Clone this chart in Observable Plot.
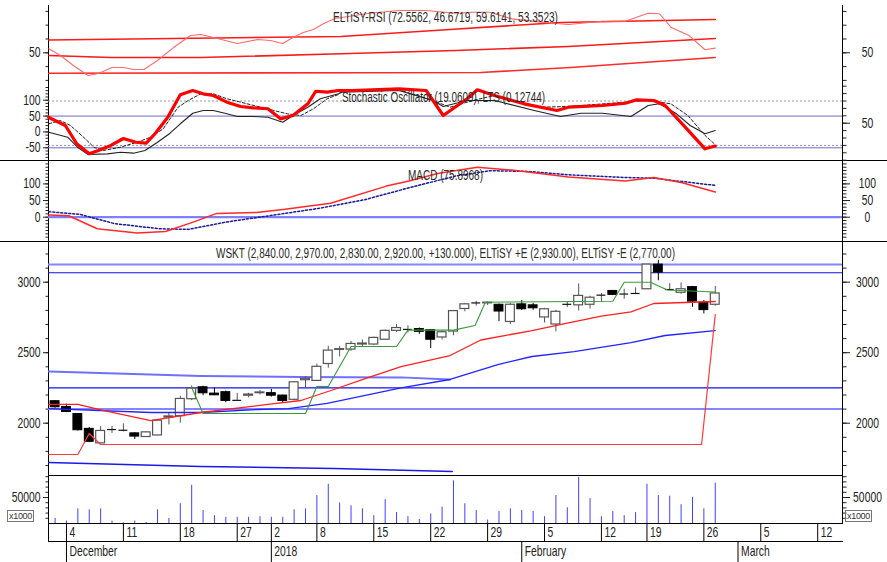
<!DOCTYPE html>
<html><head><meta charset="utf-8">
<script src="https://cdn.jsdelivr.net/npm/d3@7"></script>
<script src="https://cdn.jsdelivr.net/npm/@observablehq/plot@0.6"></script>
<style>
body{margin:0;background:#fff;}
#chart{position:relative;width:887px;height:562px;background:#fff;overflow:hidden;}
#chart svg{position:absolute;left:0;top:0;}
.ln{position:absolute;background:#000;}
.box{position:absolute;border:1px solid #777;font:9px 'Liberation Sans',sans-serif;color:#333;line-height:10px;padding:0 1px;letter-spacing:-0.3px;}
</style></head><body><div id="chart"></div>
<script>
// ---------- DATA ----------
const tradingDays = ["2017-12-01","2017-12-04","2017-12-05","2017-12-06","2017-12-07","2017-12-08","2017-12-11","2017-12-12","2017-12-13","2017-12-14","2017-12-15","2017-12-18","2017-12-19","2017-12-20","2017-12-21","2017-12-22","2017-12-27","2017-12-28","2017-12-29","2018-01-02","2018-01-03","2018-01-04","2018-01-05","2018-01-08","2018-01-09","2018-01-10","2018-01-11","2018-01-12","2018-01-15","2018-01-16","2018-01-17","2018-01-18","2018-01-19","2018-01-22","2018-01-23","2018-01-24","2018-01-25","2018-01-26","2018-01-29","2018-01-30","2018-01-31","2018-02-01","2018-02-02","2018-02-05","2018-02-06","2018-02-07","2018-02-08","2018-02-09","2018-02-12","2018-02-13","2018-02-14","2018-02-15","2018-02-19","2018-02-20","2018-02-21","2018-02-22","2018-02-23","2018-02-26","2018-02-27"];
const futureDays = ["2018-02-28","2018-03-01","2018-03-02","2018-03-05","2018-03-06","2018-03-07","2018-03-08","2018-03-09","2018-03-12","2018-03-13","2018-03-14"];
const opens  = [2156,2115,2065,1960,1857,1953,1948,1928,1902,1913,2040,2050,2170,2255,2210,2220,2160,2195,2213,2213,2196,2166,2305,2300,2420,2520,2522,2558,2558,2592,2655,2662,2668,2660,2608,2650,2810,2850,2850,2840,2718,2843,2836,2750,2700,2840,2836,2840,2905,2938,2915,2918,2950,3125,2950,2925,2965,2856,2840];
const highs  = [2160,2135,2068,1970,1975,1977,1995,1932,1938,2020,2075,2190,2265,2262,2250,2228,2212,2212,2232,2240,2200,2292,2330,2420,2545,2545,2580,2590,2610,2660,2700,2690,2675,2665,2655,2800,2850,2865,2860,2845,2850,2870,2850,2815,2800,2860,2987,2900,2920,2940,2950,2960,3125,3155,2990,2995,2970,2870,2970];
const lows   = [2106,2075,1945,1862,1855,1928,1938,1885,1900,1912,1988,2000,2160,2195,2195,2145,2155,2180,2200,2185,2140,2160,2245,2295,2390,2470,2510,2545,2550,2590,2645,2640,2630,2530,2590,2620,2790,2830,2835,2720,2700,2800,2800,2710,2648,2820,2796,2810,2860,2905,2880,2915,2950,3010,2940,2915,2822,2775,2830];
const closes = [2113,2080,1950,1868,1945,1955,1950,1905,1935,2018,2048,2172,2245,2212,2198,2158,2162,2203,2218,2195,2158,2290,2315,2400,2515,2525,2562,2565,2605,2655,2675,2665,2648,2592,2645,2795,2843,2853,2855,2792,2840,2808,2815,2808,2790,2843,2903,2890,2908,2910,2916,2920,3125,3068,2948,2950,2862,2802,2920];
const volumes = [9800,4600,28200,26200,28200,4600,1300,4600,2000,26200,9800,38000,73500,24900,15100,11800,11800,11800,13100,11800,11800,26200,28200,53800,75400,39400,34100,28200,15100,45900,21000,13100,7900,18400,31500,82000,38000,24900,6600,23000,28200,24900,23000,13100,53800,30200,88600,47900,13100,23000,15100,21000,75400,53800,52500,36100,50500,28200,77400];

// price-panel overlays: [trading-day index, value]
const maShort = [[-0.55,2133],[2,2133],[4,2095],[8.4,2019],[12.8,2076],[18.7,2133],[21.6,2161],[24.5,2239],[27.5,2324],[30.4,2402],[34.7,2480],[37.4,2590],[41.9,2657],[45,2710],[48,2760],[50.6,2790],[52.6,2849],[58,2863]];
const maLong = [[-0.55,2104],[8.4,2076],[12.8,2076],[17.8,2097],[20.5,2104],[23.9,2140],[30.4,2250],[34.7,2310],[38.9,2416],[41.9,2473],[45.6,2508],[50.6,2572],[53.6,2622],[58,2657]];
const upperTrend = [[-0.55,2367],[12.8,2335],[21.6,2327],[30.4,2325],[34.7,2310]];
const lowerTrend = [[-0.55,1721],[12.8,1693],[24.5,1679],[34.9,1657]];
const plusE = [[12,2253],[13,2069],[22,2069],[23,2260],[24,2260],[26,2544],[30,2544],[31,2660],[35,2660],[36.9,2693],[37.8,2858],[49,2865],[50,3000],[52.3,3000],[53.8,2945],[58,2930]];
const minusE = [[-0.55,1778],[2,1778],[3,1927],[4,1849],[56.8,1849],[58,2770]];
const priceLevelsLight = [3125,2100];
const priceLevelsDark = [3067,2250];

// RSI panel
const rsiWave = [[-0.55,52.9],[0.47,48.0],[1.6,40.8],[2.9,33.6],[3.8,35.0],[5.0,39.3],[6.0,39.3],[6.9,37.9],[7.8,37.9],[9.0,44.4],[10.4,53.8],[11.9,62.5],[12.8,63.3],[13.9,61.1],[16.0,56.7],[17.8,59.6],[18.9,58.9],[20.0,56.7],[20.9,61.1],[21.8,64.7],[22.7,66.9],[23.6,71.2],[24.6,74.9],[27.6,78.7],[30.2,80.7],[32.6,80.7],[35.2,78.7],[36.7,79.4],[38.2,79.4],[40.1,74.6],[42.7,72.2],[45.1,70.5],[48.1,72.9],[50.1,72.9],[52.1,78.7],[53.1,78.3],[54.1,68.6],[55.7,62.5],[57.1,52.2],[58,53.4]];
const rsiA = [[-0.55,59.3],[25.1,61.8],[34.7,66.9],[44.4,72.0],[58,74.1]];
const rsiB = [[-0.55,48.0],[4.9,46.6],[12.8,46.6],[25.1,49.3],[35.2,51.7],[45.1,54.6],[58,60.4]];
const rsiC = [[-0.55,35.2],[37.4,35.7],[45.3,39.3],[58,46.6]];

// Stochastic panel
const stochK = [[-0.55,57.7],[0.9,46.9],[1.9,22.2],[3.0,8.6],[3.8,13.1],[4.9,19.9],[6.0,29.3],[7.1,24.3],[8.0,23],[8.8,36.1],[9.9,58.1],[11.0,88.4],[12.1,94.2],[13.0,89.7],[13.9,87.4],[15.1,78.4],[16.3,72.6],[17.4,70.8],[18.7,69.5],[19.8,55.9],[20.9,60.4],[22.2,76.2],[22.9,93.2],[23.9,91.9],[24.9,94.2],[26.1,94.2],[30.2,96.5],[32.6,94.2],[34.1,60.4],[36.2,83],[37.1,95.1],[38.6,87.4],[41.2,76.2],[44.1,67.2],[45.1,71.6],[48.1,73.9],[50.1,77],[51.1,81.6],[52.6,80.7],[53.6,73.9],[55.1,49.2],[57.1,15.4],[58,19.1]];
const stochD = [[-0.55,49.2],[0.47,53.6],[1.35,46.9],[2.5,31.1],[3.4,17.6],[4.25,13.1],[5.75,17.6],[7.2,24.3],[8.4,31.1],[9.5,42.4],[10.8,71.6],[11.7,80.7],[12.8,89.7],[13.9,89.7],[15.1,83],[16.3,78.4],[17.8,72.6],[19.2,67.2],[20.4,62.7],[21.6,60.4],[22.7,69.5],[23.9,83],[24.9,88.8],[25.2,94.2],[30.2,95.1],[33.2,80.7],[34.7,71.6],[36.7,80.7],[38.6,87.4],[42.7,71.6],[45.1,72.6],[50.1,78.4],[52.1,80.7],[54.1,76.2],[55.6,60.4],[57.1,33.4],[58,21.2]];
const stochS = [[-0.55,37.8],[1.1,31.1],[1.97,17.6],[2.9,7.7],[4.6,8.6],[5.75,10.8],[6.9,9.5],[7.9,13.1],[9.0,24.3],[10.1,36.5],[11.0,49.2],[12.1,63.5],[13.0,67.2],[13.9,67.2],[15.1,62.7],[16.0,59.1],[17.4,59.1],[18.7,58.1],[20.0,51.4],[20.9,60.4],[22.2,71.6],[23.3,83],[24.9,89.7],[25.2,91.9],[30.2,94.2],[33.2,80.7],[34.1,72.6],[36.2,80.7],[38.6,80.7],[42.1,67.2],[44.4,59.1],[46.2,63.5],[48.1,63.5],[50.6,59.1],[52.1,73.9],[53.1,76.2],[54.6,62.7],[55.8,46.9],[57.1,35.7],[58,40.1]];
const stochLevels = [80,20];
const ltsLevels = [50,-50];

// MACD panel
const macdLine = [[-0.55,6.3],[1.2,4.2],[3.7,-34.8],[7.2,-47.1],[9.7,-42.9],[12.2,-14.1],[14.2,11.4],[17.7,14.4],[20.2,23.7],[24.2,42],[29.1,93.4],[31.1,108.7],[33.6,131.2],[37.1,150],[40.1,141.4],[45.1,121],[50.1,108.7],[52.6,118.9],[55.1,103.6],[58,75.9]];
const macdSignal = [[-0.55,16.5],[2.2,8.4],[5.2,-19.2],[9.2,-34.8],[11.7,-36.6],[15.1,-14.1],[19.2,6.3],[23.2,26.7],[27.2,52.6],[31.1,88.3],[35.2,124],[38.2,139.6],[41.6,137.5],[45.1,127.3],[50.1,119.2],[52.6,117.1],[58,95.5]];

// axis tick labels
const dayTicks = ["2017-12-04","2017-12-11","2017-12-18","2017-12-27","2018-01-02","2018-01-08","2018-01-15","2018-01-22","2018-01-29","2018-02-05","2018-02-12","2018-02-19","2018-02-26","2018-03-05","2018-03-12"];
const monthTicks = ["2017-12-04","2018-01-02","2018-02-01","2018-03-01"];
const monthLabels = ["December","2018","February","March"];
const titles = ["ELTiSY-RSI (72.5562, 46.6719, 59.6141, 53.3523)","Stochastic Oscillator (19.0609), LTS (0.12744)","MACD (75.8968)","WSKT (2,840.00, 2,970.00, 2,830.00, 2,920.00, +130.000), ELTiSY +E (2,930.00), ELTiSY -E (2,770.00)"];

// ---------- RENDER ----------
const chart = document.getElementById("chart");
const allDays = tradingDays.concat(futureDays);
const idx = d => allDays.indexOf(d);
const xDomain = [-0.58, 69.18];
const FONT = "'Liberation Sans Narrow','Arial Narrow','Liberation Sans',Arial,sans-serif";
const style = {fontFamily: FONT, fontSize: "14px", color: "#222", background: "transparent", overflow: "visible"};
const SQUEEZE = 0.74;

function layer(yDomain, yRange, marks, h = 562, top = 0) {
  const opts = {width: 887, height: h, marginLeft: 48, marginRight: 45, marginTop: 0, marginBottom: 0,
    x: {domain: xDomain, axis: null}, style, marks};
  if (yDomain) opts.y = {domain: yDomain, range: yRange, axis: null};
  const svg = Plot.plot(opts);
  svg.style.top = top + "px";
  // condensed look: squeeze each label horizontally about its own anchor
  svg.querySelectorAll("text").forEach(t => {
    const tr = t.getAttribute("transform");
    if (tr && tr.includes("translate")) t.setAttribute("transform", tr + ` scale(${SQUEEZE},1)`);
  });
  chart.appendChild(svg);
}
const f = d => String(d);
const rightMajor = major => Plot.axisY({anchor: "right", ticks: major, tickSize: 7, tickPadding: 18, textAnchor: "middle", tickFormat: f, label: null});
function axes(minor, major, lMinor = 2.5, rMinor = 3.5) {
  return [
    Plot.axisY({anchor: "left", ticks: minor, tickSize: lMinor, tickFormat: () => "", label: null}),
    Plot.axisY({anchor: "left", ticks: major, tickSize: 5, tickPadding: 3, tickFormat: f, label: null}),
    Plot.axisY({anchor: "right", ticks: minor, tickSize: rMinor, tickFormat: () => "", label: null}),
    rightMajor(major)
  ];
}
const pts = a => a.map(([i, v]) => ({i, v}));
const line = (a, o) => Plot.line(pts(a), {x: "i", y: "v", ...o});

// frame lines (layout)
function hl(x, y, w, hgt = 1) { const d = document.createElement("div"); d.className = "ln"; Object.assign(d.style, {left: x + "px", top: y + "px", width: w + "px", height: hgt + "px"}); chart.appendChild(d); }
hl(47.5, 5, 1, 537); hl(842, 5, 1, 518);
hl(0, 160, 887); hl(0, 241, 887); hl(48, 475, 795); hl(48, 523, 795); hl(48, 541, 795);

// RSI
layer([50, 80], [52.3, 10.9], [
  line(rsiC, {stroke: "#ff2a2a", strokeWidth: 1.6}),
  line(rsiB, {stroke: "#ff1a1a", strokeWidth: 1.6}),
  line(rsiA, {stroke: "#ff1a1a", strokeWidth: 1.6}),
  line(rsiWave, {stroke: "#ff6a6a", strokeWidth: 1.1}),
  Plot.axisY({anchor: "left", ticks: d3.range(30, 81, 10), tickSize: 2.5, tickFormat: () => "", label: null}),
  Plot.axisY({anchor: "left", ticks: [50], tickSize: 5, tickPadding: 3, tickFormat: f, label: null}),
  Plot.axisY({anchor: "right", ticks: d3.range(30, 81, 10), tickSize: 3.5, tickFormat: () => "", label: null}),
  rightMajor([50])
]);

// Stochastic (left LTS scale: levels + left ticks)
layer([-50, 100], [147.3, 99.7], [
  Plot.ruleY(ltsLevels, {stroke: "#6a6ac8", strokeWidth: 1}),
  Plot.axisY({anchor: "left", ticks: d3.range(-80, 141, 10), tickSize: 2.5, tickFormat: () => "", label: null}),
  Plot.axisY({anchor: "left", ticks: [-50, 0, 50, 100], tickSize: 5, tickPadding: 3, tickFormat: f, label: null})
]);
// Stochastic (0-100 scale)
layer([0, 100], [159.7, 85.7], [
  Plot.ruleY(stochLevels, {stroke: "#999", strokeDasharray: "2,2", strokeWidth: 1}),
  line(stochS, {stroke: "#222", strokeWidth: 1.1}),
  line(stochD, {stroke: "#222", strokeWidth: 1, strokeDasharray: "3,2"}),
  line(stochK, {stroke: "#ff0000", strokeWidth: 3.2}),
  Plot.axisY({anchor: "right", ticks: d3.range(0, 101, 10), tickSize: 3.5, tickFormat: () => "", label: null}),
  rightMajor([50])
]);

// MACD
layer([0, 100], [216.7, 183.4], [
  Plot.ruleY([0], {stroke: "#7f7fff", strokeWidth: 2.2}),
  line(macdSignal, {stroke: "#1a1a9a", strokeWidth: 1.5, strokeDasharray: "2,2"}),
  line(macdLine, {stroke: "#ff2a2a", strokeWidth: 1.5}),
  ...axes(d3.range(-60, 161, 10), [0, 50, 100])
]);

// Price
const candles = tradingDays.map((d, i) => ({i, o: opens[i], h: highs[i], l: lows[i], c: closes[i]}));
const up = candles.filter(d => d.c > d.o + 4), down = candles.filter(d => d.c < d.o - 4), doji = candles.filter(d => Math.abs(d.c - d.o) <= 4);
layer([2000, 3000], [422.7, 281.7], [
  Plot.ruleY(priceLevelsLight, {stroke: "#8585ff", strokeWidth: 2}),
  Plot.ruleY(priceLevelsDark, {stroke: "#1010ee", strokeWidth: 1.2}),
  line(upperTrend, {stroke: "#7070ff", strokeWidth: 2}),
  line(lowerTrend, {stroke: "#1a1ae6", strokeWidth: 1.4}),
  Plot.ruleX(up.concat(doji), {x: "i", y1: "l", y2: "h", stroke: "#555", strokeWidth: 1}),
  Plot.ruleX(down, {x: "i", y1: "l", y2: "h", stroke: "#000", strokeWidth: 1}),
  Plot.rect(up, {x1: d => d.i - 0.39, x2: d => d.i + 0.39, y1: "o", y2: "c", fill: "#fff", stroke: "#555", strokeWidth: 1.2}),
  Plot.rect(down, {x1: d => d.i - 0.39, x2: d => d.i + 0.39, y1: "o", y2: "c", fill: "#000", stroke: "#000", strokeWidth: 1}),
  Plot.ruleY(doji, {y: "c", x1: d => d.i - 0.39, x2: d => d.i + 0.39, stroke: "#111", strokeWidth: 1.2}),
  line(maLong, {stroke: "#2424ff", strokeWidth: 1.3}),
  line(maShort, {stroke: "#ff2020", strokeWidth: 1.3}),
  line(plusE, {stroke: "#3a9a3a", strokeWidth: 1.1}),
  line(minusE, {stroke: "#ff3a3a", strokeWidth: 1.2}),
  ...axes(d3.range(1700, 3201, 100), [2000, 2500, 3000])
]);

// Volume
layer([0, 50000], [523, 497], [
  Plot.ruleX(volumes.map((v, i) => ({i, v})), {x: "i", y1: 0, y2: "v", stroke: "#4040ff", strokeWidth: 1}),
  ...axes(d3.range(10000, 90001, 10000), [50000])
]);

// date row
const dayIdx = dayTicks.map(idx);
layer(null, null, [
  Plot.tickX(dayIdx, {x: d => d, stroke: "#000", strokeWidth: 1}),
  Plot.text(dayIdx, {x: d => d, text: (d, j) => String(+dayTicks[j].slice(8)), textAnchor: "start", dx: 3, fill: "#222", fontSize: 14})
], 18, 523);
// month row
const monIdx = monthTicks.map(idx);
layer(null, null, [
  Plot.tickX(monIdx, {x: d => d, stroke: "#000", strokeWidth: 1}),
  Plot.text(monIdx, {x: d => d, text: (d, j) => monthLabels[j], textAnchor: "start", dx: 3, fill: "#222", fontSize: 14})
], 21, 541);

// titles
const tpos = [[333, 17, 225], [342, 97, 203], [408, 175, 75], [216, 253, 459]];
const tsvg = d3.create("svg").attr("width", 887).attr("height", 562).style("position", "absolute").style("left", 0).style("top", 0);
titles.forEach((t, k) => {
  tsvg.append("text").attr("x", tpos[k][0]).attr("y", tpos[k][1]).attr("dy", "0.35em")
    .attr("textLength", tpos[k][2]).attr("lengthAdjust", "spacingAndGlyphs")
    .attr("font-family", FONT).attr("font-size", 14).attr("fill", "#2a2a2a").text(t);
});
chart.appendChild(tsvg.node());

// x1000 unit boxes
[[7, 510], [845, 510]].forEach(([x, y]) => {
  const b = document.createElement("div"); b.className = "box"; b.textContent = "x1000";
  Object.assign(b.style, {left: x + "px", top: y + "px"}); chart.appendChild(b);
});
</script></body></html>
